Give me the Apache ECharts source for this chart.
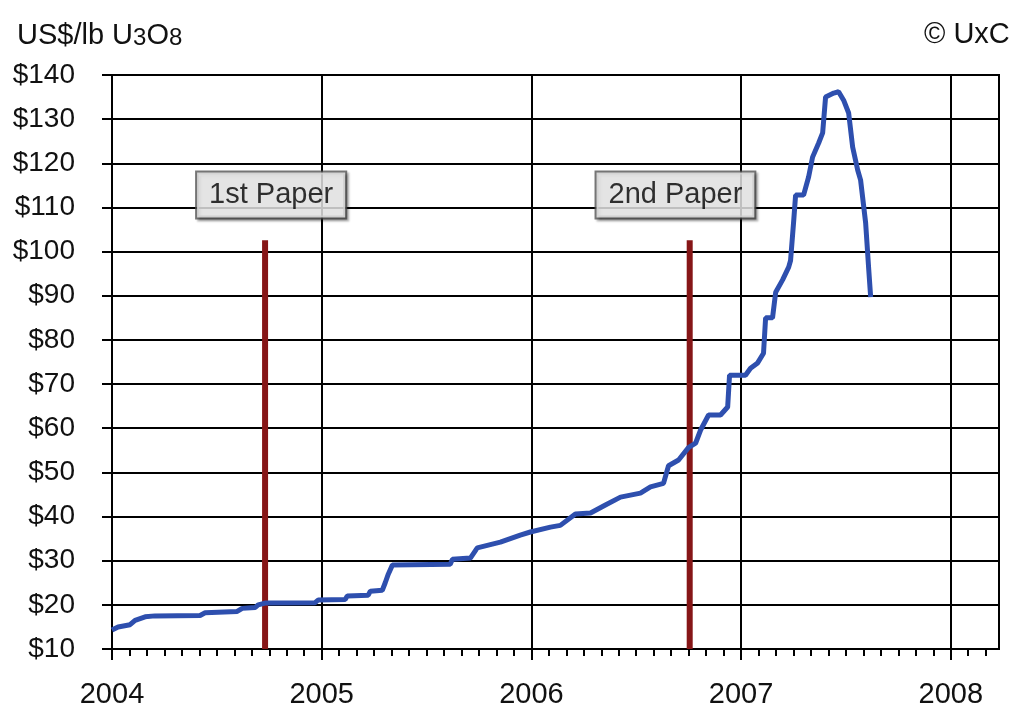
<!DOCTYPE html>
<html>
<head>
<meta charset="utf-8">
<script src="https://cdn.jsdelivr.net/npm/echarts@6/dist/echarts.min.js"></script>
<style>
html,body{margin:0;padding:0;background:#fff;}
#chart{width:1012px;height:709px;}
</style>
</head>
<body>
<div id="chart"></div>
<script>
// Time in decimal years, spot price in US$/lb U3O8
const years = [2004.000,2004.029,2004.086,2004.110,2004.158,2004.205,2004.420,2004.444,2004.597,2004.621,2004.683,2004.697,2004.730,
  2004.969,2004.983,2005.112,2005.122,2005.222,2005.232,2005.289,2005.303,2005.318,2005.337,2005.613,2005.623,2005.709,2005.742,
  2005.852,2005.947,2005.995,2006.091,2006.138,2006.210,2006.282,2006.353,2006.425,2006.520,2006.568,2006.630,2006.654,2006.702,
  2006.749,2006.783,2006.807,2006.845,2006.902,2006.936,2006.945,2007.021,2007.045,2007.079,2007.107,2007.117,2007.150,2007.165,
  2007.198,2007.227,2007.236,2007.251,2007.260,2007.298,2007.322,2007.341,2007.370,2007.389,2007.403,2007.442,2007.465,2007.489,
  2007.513,2007.532,2007.556,2007.570,2007.594,2007.609,2007.618];
const prices = [14.3,15.0,15.5,16.5,17.3,17.5,17.6,18.2,18.5,19.2,19.4,20.0,20.4,
  20.5,21.1,21.2,22.0,22.2,23.1,23.3,25.0,27.0,29.0,29.2,30.3,30.6,32.9,
  34.2,35.8,36.5,37.6,38.0,40.6,40.8,42.6,44.4,45.3,46.7,47.5,51.5,52.8,
  55.6,56.6,59.6,63.0,63.0,64.8,72.0,72.0,73.6,74.8,77.0,85.0,85.0,90.8,
  93.6,96.5,98.0,107.0,112.8,112.8,116.9,121.4,124.6,126.9,135.0,135.9,136.2,134.3,
  131.4,123.7,118.5,116.2,106.5,95.8,89.7];

// Paper publication markers
const paperYears = [2004.73, 2006.755];
const paperTop = 102.6;
const paperLabels = ['1st Paper', '2nd Paper'];
const labelYears = [2004.759, 2006.687];
const labelPrice = 112.8;

// Axis ticks
const yearTicks = [2004, 2005, 2006, 2007, 2008];
const xMin = 2004, xMax = 2008.23;
const yMin = 10, yMax = 140, yStep = 10;

const monthTicks = [];
for (let y = 2004; y <= 2008; y++) {
  for (let m = 0; m < 12; m++) {
    const v = y + m / 12;
    if (v < xMax) monthTicks.push(v);
  }
}

const FONT = '"Liberation Sans", Arial, sans-serif';
const chart = echarts.init(document.getElementById('chart'), null, {renderer: 'canvas'});

const series = [{
  type: 'line',
  data: years.map((y, i) => [y, prices[i]]),
  symbol: 'none',
  lineStyle: {color: '#2e4fae', width: 5},
  z: 5
}];
paperYears.forEach((py, i) => {
  series.push({
    type: 'line',
    data: [[py, yMin], [py, paperTop]],
    symbol: 'none',
    lineStyle: {color: '#861617', width: 6},
    z: 4
  });
});
series.push({
  type: 'scatter',
  data: labelYears.map((y, i) => ({value: [y, labelPrice], name: paperLabels[i]})),
  symbolSize: 0,
  z: 10,
  label: {
    show: true,
    position: 'inside',
    formatter: p => p.name,
    fontFamily: FONT,
    fontSize: 29,
    color: '#000',
    backgroundColor: '#efefef',
    borderColor: '#555',
    borderWidth: 2,
    padding: [8, 12, 8, 12],
    shadowColor: 'rgba(0,0,0,0.35)',
    shadowOffsetX: 2,
    shadowOffsetY: 2,
    shadowBlur: 2
  }
});

chart.setOption({
  animation: false,
  backgroundColor: '#fff',
  title: [{
    text: '{a|US$/lb U}{b|3}{a|O}{b|8}',
    left: 12, top: 15,
    textStyle: {
      fontWeight: 'normal',
      rich: {
        a: {fontFamily: FONT, fontSize: 29, fontWeight: 'normal', color: '#111', verticalAlign: 'bottom', lineHeight: 30},
        b: {fontFamily: FONT, fontSize: 24, fontWeight: 'normal', color: '#111', verticalAlign: 'bottom', lineHeight: 30}
      }
    }
  }, {
    text: '© UxC',
    left: 919, top: 15,
    textStyle: {fontFamily: FONT, fontSize: 29, fontWeight: 'normal', color: '#111'}
  }],
  grid: {left: 112, right: 13, top: 75, bottom: 60, show: true, borderColor: '#000', borderWidth: 2, containLabel: false},
  xAxis: [{
    type: 'value', min: xMin, max: xMax, interval: 1, position: 'bottom',
    axisLine: {show: true, onZero: false, lineStyle: {color: '#000', width: 2}},
    axisTick: {show: true, length: 11, customValues: yearTicks, lineStyle: {color: '#000', width: 2}},
    axisLabel: {show: true, customValues: yearTicks, margin: 31, fontFamily: FONT, fontSize: 29, color: '#111',
      formatter: v => String(Math.round(v))},
    splitLine: {show: true, lineStyle: {color: '#000', width: 2}}
  }, {
    type: 'value', min: xMin, max: xMax, position: 'bottom',
    axisLine: {show: false},
    axisTick: {show: true, length: 7, customValues: monthTicks, lineStyle: {color: '#000', width: 2}},
    axisLabel: {show: false},
    splitLine: {show: false}
  }],
  yAxis: {
    type: 'value', min: yMin, max: yMax, interval: yStep,
    axisLine: {show: true, lineStyle: {color: '#000', width: 2}},
    axisTick: {show: true, length: 10, lineStyle: {color: '#000', width: 2}},
    axisLabel: {margin: 37, fontFamily: FONT, fontSize: 28, color: '#111', formatter: v => '$' + v},
    splitLine: {show: true, lineStyle: {color: '#000', width: 2}}
  },
  series: series
});
</script>
</body>
</html>
